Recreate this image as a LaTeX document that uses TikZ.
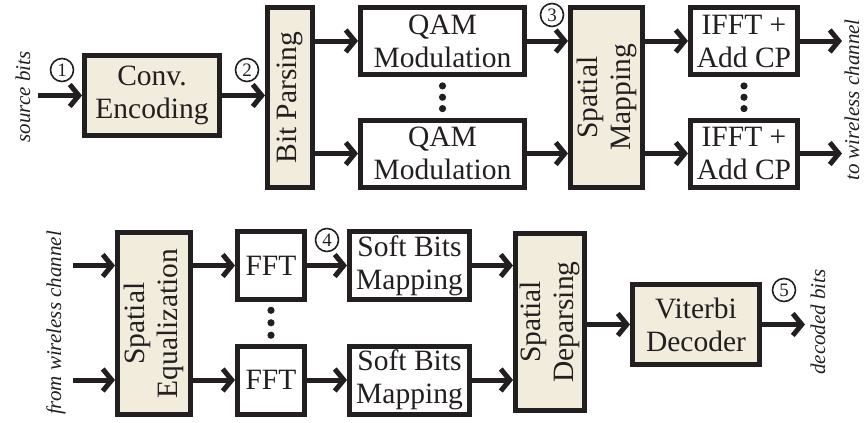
\documentclass[tikz,border=0pt]{standalone}
\usepackage{fontspec}
\setmainfont{Liberation Serif}
\usetikzlibrary{positioning, arrows.meta, calc}
\definecolor{boxfill}{RGB}{242,236,221}
\definecolor{ink}{RGB}{35,31,32}
\tikzset{
  blk/.style={draw=ink, line width=5pt, fill=white, align=center, inner sep=0pt,
              text=ink, font=\fontsize{29.5}{33}\selectfont},
  tanblk/.style={blk, fill=boxfill},
  vlabel/.style={rotate=90, align=center, text=ink, font=\fontsize{29.5}{33}\selectfont},
  flow/.style={draw=ink, line width=5pt, -{Straight Barb[length=9pt,width=22pt]}},
  num/.style={circle, draw=ink, line width=1.6pt, inner sep=0pt, minimum size=23pt,
              text=ink, font=\fontsize{19}{19}\selectfont},
  io/.style={rotate=90, text=ink, inner sep=1pt, font=\fontsize{21}{21}\selectfont\itshape},
}

\begin{document}
\begin{tikzpicture}[x=1pt, y=-1pt]
  \useasboundingbox (0,0) rectangle (865,423);
  % transmitter chain
  \node[tanblk, minimum width=135pt, minimum height=80pt] (enc) at (152,95.5) {Conv.\\Encoding};
  \node[tanblk, minimum width=45pt, minimum height=180pt] (parse) at (290,97.5) {};
  \node[vlabel] at (parse) {Bit Parsing};
  \node[blk, minimum width=164pt, minimum height=67pt] (qam1) at (442.5,41) {QAM\\Modulation};
  \node[blk, minimum width=164pt, minimum height=67pt] (qam2) at (442.5,153.5) {QAM\\Modulation};
  \node[tanblk, minimum width=72pt, minimum height=180pt] (map) at (606.5,97.5) {};
  \node[vlabel] at (map) {Spatial\\Mapping};
  \node[blk, minimum width=107pt, minimum height=67pt] (ifft1) at (744,41) {IFFT +\\Add CP};
  \node[blk, minimum width=107pt, minimum height=67pt] (ifft2) at (744,153.5) {IFFT +\\Add CP};
  \coordinate (src) at (38,95.5);
  \coordinate (tx1) at (842,41);
  \coordinate (tx2) at (842,153.5);
  \draw[flow] (src) -- (enc.west);
  \draw[flow] (enc.east) -- (enc.east -| parse.west);
  \foreach \i in {1,2}{
    \draw[flow] (qam\i.west -| parse.east) -- (qam\i.west);
    \draw[flow] (qam\i.east) -- (qam\i.east -| map.west);
    \draw[flow] (ifft\i.west -| map.east) -- (ifft\i.west);
    \draw[flow] (ifft\i.east) -- (tx\i);
  }
  \foreach \f in {0.22,0.5,0.78}{
    \fill[ink] ($(qam1.south)!\f!(qam2.north)$) circle (3.6pt);
    \fill[ink] ($(ifft1.south)!\f!(ifft2.north)$) circle (3.6pt);
  }
  \node[io] (srclbl) at (23,97) {source bits};
  \node[io] (txlbl) at (852,100) {to wireless channel};
  \node[num] (n1) at (62,70) {1};
  \node[num] (n2) at (247,70) {2};
  \node[num] (n3) at (552,15) {3};

  % receiver chain
  \node[tanblk, minimum width=73pt, minimum height=182pt] (eq) at (154,323.5) {};
  \node[vlabel] at (eq) {Spatial\\Equalization};
  \node[blk, minimum width=67pt, minimum height=68pt] (fft1) at (271,265.5) {FFT};
  \node[blk, minimum width=67pt, minimum height=68pt] (fft2) at (271,380) {FFT};
  \node[blk, minimum width=120pt, minimum height=68pt] (soft1) at (409.5,265.5) {Soft Bits\\Mapping};
  \node[blk, minimum width=120pt, minimum height=68pt] (soft2) at (409.5,380) {Soft Bits\\Mapping};
  \node[tanblk, minimum width=69pt, minimum height=177pt] (dep) at (550,322) {};
  \node[vlabel] at (dep) {Spatial\\Deparsing};
  \node[tanblk, minimum width=127pt, minimum height=80pt] (vit) at (696,324.5) {Viterbi\\Decoder};
  \coordinate (rx1) at (73,265.5);
  \coordinate (rx2) at (73,380);
  \coordinate (sink) at (805,324.5);
  \foreach \i in {1,2}{
    \draw[flow] (rx\i) -- (rx\i -| eq.west);
    \draw[flow] (fft\i.west -| eq.east) -- (fft\i.west);
    \draw[flow] (fft\i.east) -- (soft\i.west);
    \draw[flow] (soft\i.east) -- (soft\i.east -| dep.west);
  }
  \draw[flow] (vit.west -| dep.east) -- (vit.west);
  \draw[flow] (vit.east) -- (sink);
  \foreach \f in {0.2,0.5,0.8}
    \fill[ink] ($(fft1.south)!\f!(fft2.north)$) circle (3.6pt);
  \node[io] (rxlbl) at (56,323) {from wireless channel};
  \node[io] (outlbl) at (818,322) {decoded bits};
  \node[num] (n4) at (327,240) {4};
  \node[num] (n5) at (784,290) {5};
\end{tikzpicture}
\end{document}
